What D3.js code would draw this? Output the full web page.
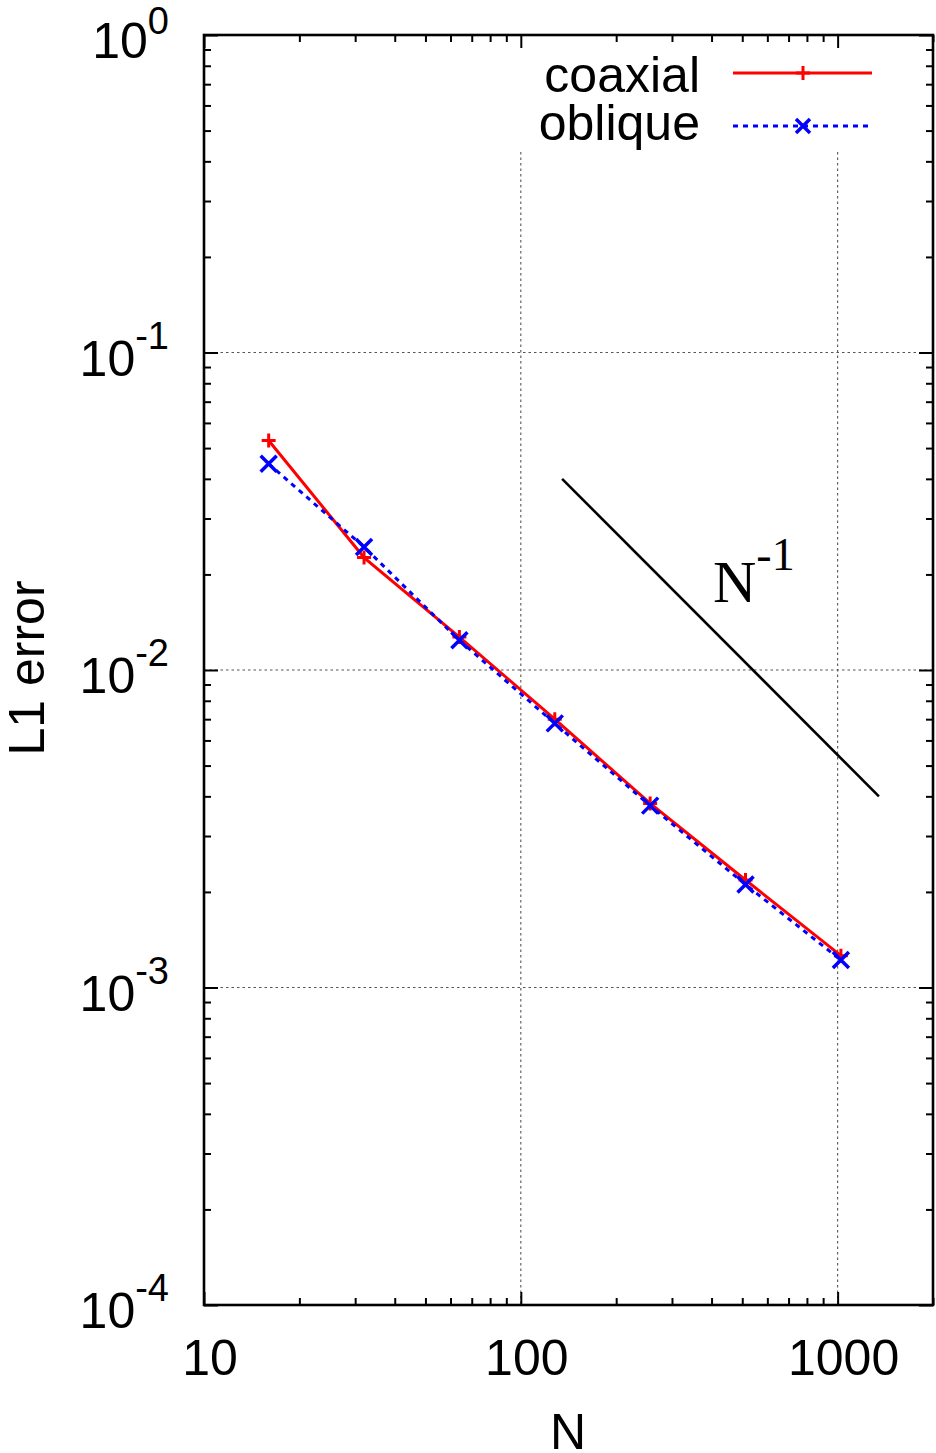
<!DOCTYPE html>
<html><head><meta charset="utf-8">
<script src="https://cdn.jsdelivr.net/npm/d3@7"></script>
<style>body{margin:0;background:#fff}svg{display:block}</style>
</head><body>
<svg id="c" width="936" height="1453"></svg>
<script>
// ---- data ----
const nValues = [16, 32, 64, 128, 256, 512, 1024];
const coaxial = [0.0528, 0.0226, 0.0127, 0.0070, 0.00380, 0.00218, 0.00126];
const oblique = [0.0446, 0.0244, 0.0124, 0.00679, 0.00374, 0.00211, 0.00122];
const refN = [135, 1350];
const refErr = [0.04, 0.004];
const xTickValues = [10, 100, 1000];
const xTickLabels = ["10", "100", "1000"];
const yTickExponents = [0, -1, -2, -3, -4];
const seriesNames = ["coaxial", "oblique"];
const seriesColors = ["#ff0000", "#0000ff"];
const xLabel = "N";
const yLabel = "L1 error";

// ---- layout ----
const L = 204, R = 933, T = 35, B = 1305;
const svg = d3.select("#c");
const x = d3.scaleLog().domain([10, 2000]).range([L, R]);
const y = d3.scaleLog().domain([1e-4, 1]).range([B, T]);
const sans = "'Liberation Sans', Arial, Helvetica, sans-serif";
const serif = "'Liberation Serif', 'Times New Roman', serif";

// grid
const gridG = svg.append("g").attr("stroke", "#555").attr("stroke-width", 1.1).attr("stroke-dasharray", "2.5,3");
[-1, -2, -3].forEach(e => {
  gridG.append("line").attr("x1", L).attr("x2", R).attr("y1", y(Math.pow(10, e))).attr("y2", y(Math.pow(10, e)));
});
[100, 1000].forEach(v => {
  gridG.append("line").attr("x1", x(v)).attr("x2", x(v)).attr("y1", 152).attr("y2", B);
});

// ticks via d3 axes
const xMinor = [], yMinor = [];
[10, 100, 1000].forEach(d => { for (let k = 2; k <= 9; k++) { if (d * k <= 2000) xMinor.push(d * k); } });
[1e-4, 1e-3, 1e-2, 1e-1].forEach(d => { for (let k = 2; k <= 9; k++) yMinor.push(d * k); });
const yMajor = yTickExponents.map(e => Math.pow(10, e));

function axisG(axis, tx, ty) {
  const g = svg.append("g").attr("transform", `translate(${tx},${ty})`).call(axis);
  g.select(".domain").remove();
  g.selectAll("text").remove();
  g.selectAll("line").attr("stroke", "#000").attr("stroke-width", 2);
  return g;
}
axisG(d3.axisBottom(x).tickValues(xTickValues).tickSize(-13).tickFormat(""), 0, B);
axisG(d3.axisBottom(x).tickValues(xMinor).tickSize(-7).tickFormat(""), 0, B);
axisG(d3.axisTop(x).tickValues(xTickValues).tickSize(-13).tickFormat(""), 0, T);
axisG(d3.axisTop(x).tickValues(xMinor).tickSize(-7).tickFormat(""), 0, T);
axisG(d3.axisLeft(y).tickValues(yMajor).tickSize(-14).tickFormat(""), L, 0);
axisG(d3.axisLeft(y).tickValues(yMinor).tickSize(-7).tickFormat(""), L, 0);
axisG(d3.axisRight(y).tickValues(yMajor).tickSize(-14).tickFormat(""), R, 0);
axisG(d3.axisRight(y).tickValues(yMinor).tickSize(-7).tickFormat(""), R, 0);

// frame
svg.append("rect").attr("x", L).attr("y", T).attr("width", R - L).attr("height", B - T)
  .attr("fill", "none").attr("stroke", "#000").attr("stroke-width", 2.6);

// tick labels
xTickValues.forEach((v, i) => {
  svg.append("text").attr("x", x(v) + 6).attr("y", 1375).attr("text-anchor", "middle")
    .attr("font-family", sans).attr("font-size", 50).text(xTickLabels[i]);
});
yTickExponents.forEach(e => {
  const t = svg.append("text").attr("x", 169).attr("y", y(Math.pow(10, e)) + 23)
    .attr("text-anchor", "end").attr("font-family", sans).attr("font-size", 50);
  t.append("tspan").text("10");
  t.append("tspan").attr("font-size", 38).attr("dy", e === 0 ? -24 : -27).text(String(e));
});

// axis labels
svg.append("text").attr("x", 568).attr("y", 1449).attr("text-anchor", "middle")
  .attr("font-family", sans).attr("font-size", 50).text(xLabel);
svg.append("text").attr("transform", "translate(44,668) rotate(-90)").attr("text-anchor", "middle")
  .attr("font-family", sans).attr("font-size", 50).text(yLabel);

// reference slope line
const line = d3.line().x(d => x(d[0])).y(d => y(d[1]));
svg.append("path").attr("d", line(refN.map((n, i) => [n, refErr[i]])))
  .attr("fill", "none").attr("stroke", "#000").attr("stroke-width", 2.6);
const lab = svg.append("text").attr("x", 713).attr("y", 602).attr("font-family", serif).attr("font-size", 60);
lab.append("tspan").text("N");
lab.append("tspan").attr("font-size", 46).attr("dy", -32).text("-1");

// series
const plusPath = "M-7,0H7M0,-7V7";
const crossPath = "M-8,-8L8,8M-8,8L8,-8";
const series = [
  { name: seriesNames[0], vals: coaxial, color: seriesColors[0], dash: null, marker: plusPath, mw: 3 },
  { name: seriesNames[1], vals: oblique, color: seriesColors[1], dash: "5,5", marker: crossPath, mw: 3.5 }
];
series.forEach(s => {
  const pts = nValues.map((n, i) => [n, s.vals[i]]);
  svg.append("path").attr("d", line(pts)).attr("fill", "none").attr("stroke", s.color)
    .attr("stroke-width", 3).attr("stroke-dasharray", s.dash);
  svg.append("g").selectAll("path").data(pts).join("path")
    .attr("transform", d => `translate(${x(d[0])},${y(d[1])})`)
    .attr("d", s.marker).attr("fill", "none").attr("stroke", s.color).attr("stroke-width", s.mw);
});

// legend
const legendY = [73, 126];
const legendBase = [92, 140];
series.forEach((s, i) => {
  const ly = legendY[i];
  svg.append("text").attr("x", 700).attr("y", legendBase[i]).attr("text-anchor", "end")
    .attr("font-family", sans).attr("font-size", 50).text(s.name);
  svg.append("line").attr("x1", 733).attr("x2", 872).attr("y1", ly).attr("y2", ly)
    .attr("stroke", s.color).attr("stroke-width", 3).attr("stroke-dasharray", s.dash);
  svg.append("path").attr("transform", `translate(803,${ly})`).attr("d", i ? "M-7,-7L7,7M-7,7L7,-7" : s.marker)
    .attr("fill", "none").attr("stroke", s.color).attr("stroke-width", s.mw);
});
</script>
</body></html>
